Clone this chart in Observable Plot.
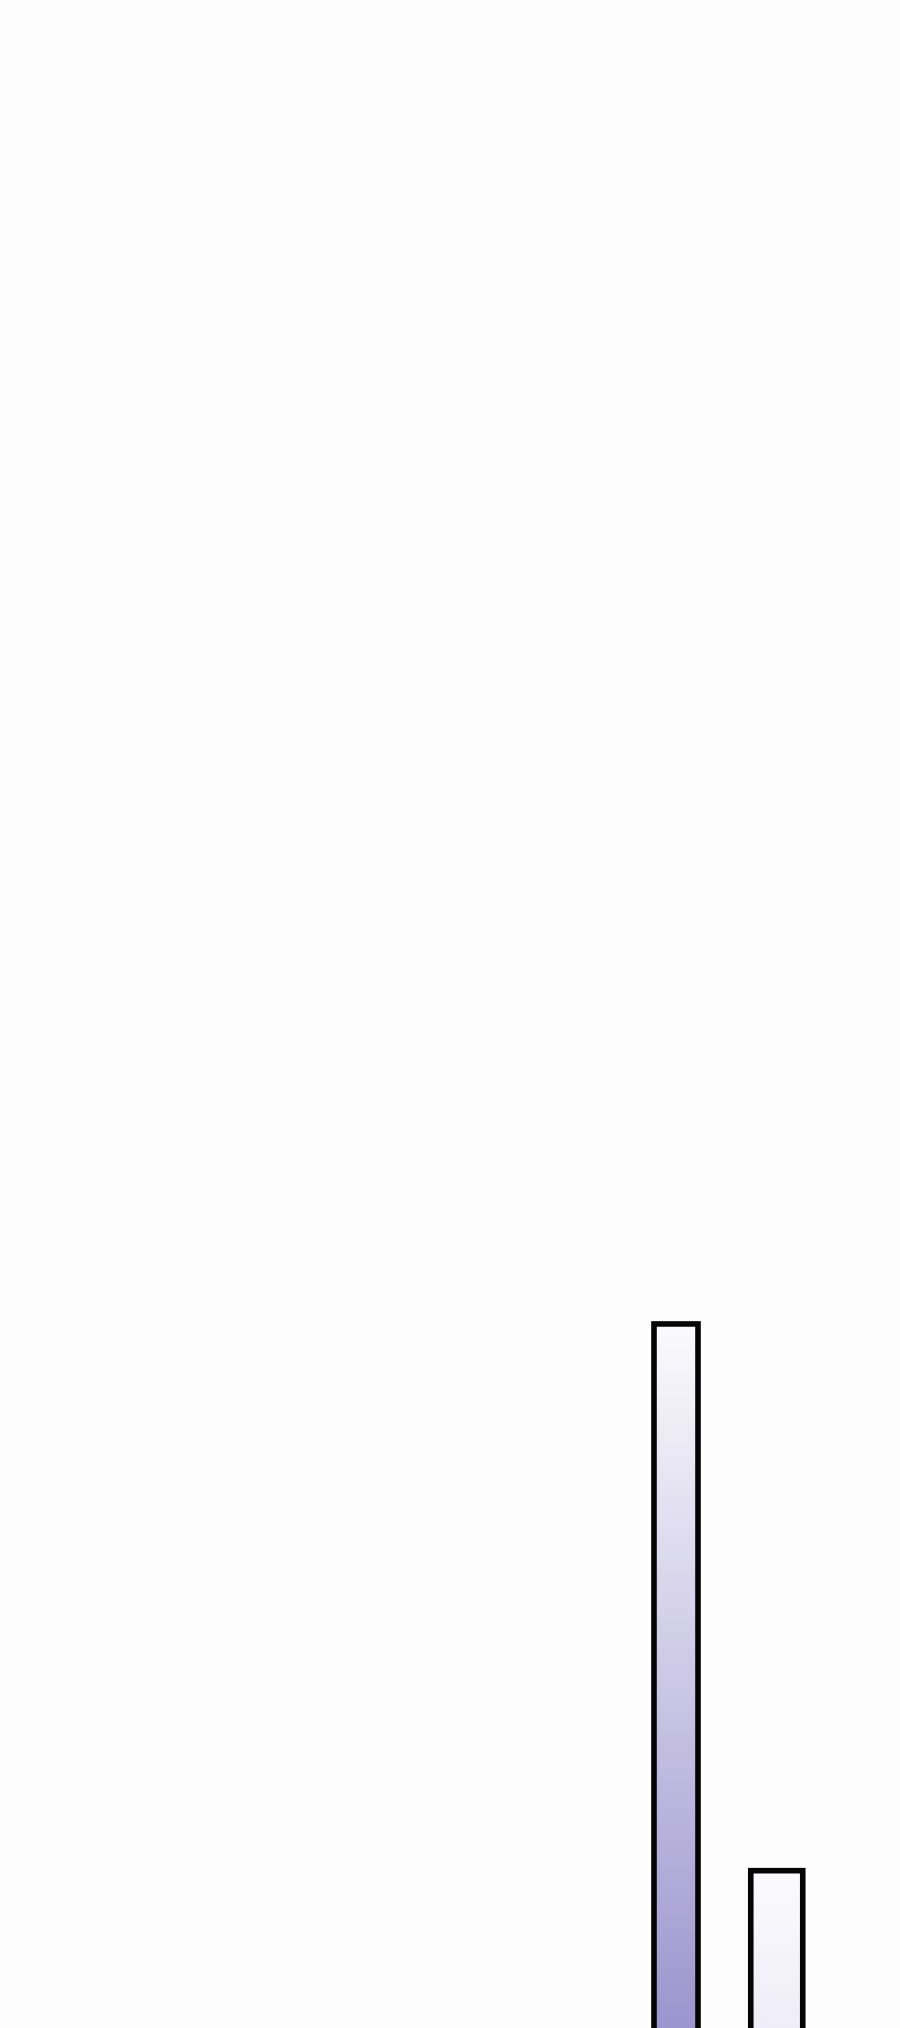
<!DOCTYPE html>
<html>
<head>
<meta charset="utf-8">
<script src="https://cdn.jsdelivr.net/npm/d3@7"></script>
<script src="https://cdn.jsdelivr.net/npm/@observablehq/plot@0.6"></script>
<style>
  html, body { margin: 0; padding: 0; background: #fdfdfd; }
  #chart svg { display: block; background: #fdfdfd; }
</style>
</head>
<body>
<div id="chart"></div>
<script>
// Data (fragment of a bar chart: two bars visible, baseline below the view)
const binStart = [13.08, 15.015];
const binEnd   = [13.96, 16.055];
const values   = [35.1, 8.3];

// Styles
const gradientTop = "#fbfbfd";
const gradientBottom = ["#9b93cd", "#eeecf8"];

const data = values.map((v, i) => ({x1: binStart[i], x2: binEnd[i], y: v, fill: `url(#barGrad${i})`}));

const svg = Plot.plot({
  width: 900,
  height: 2028,
  margin: 0,
  style: {background: "#fdfdfd"},
  x: {domain: [0, 18], range: [0, 900], axis: null},
  y: {domain: [0, 100], range: [2040, 0], axis: null},
  color: {type: "identity"},
  marks: [
    Plot.rectY(data, {x1: "x1", x2: "x2", y1: 0, y2: "y", fill: "fill", stroke: "#050505", strokeWidth: 5.6, clip: true})
  ]
});

const defs = d3.select(svg).insert("defs", ":first-child");
gradientBottom.forEach((c, i) => {
  const g = defs.append("linearGradient")
    .attr("id", `barGrad${i}`)
    .attr("x1", 0).attr("y1", 0).attr("x2", 0).attr("y2", 1);
  g.append("stop").attr("offset", 0).attr("stop-color", gradientTop);
  g.append("stop").attr("offset", 1).attr("stop-color", c);
});

document.getElementById("chart").appendChild(svg);
</script>
</body>
</html>
